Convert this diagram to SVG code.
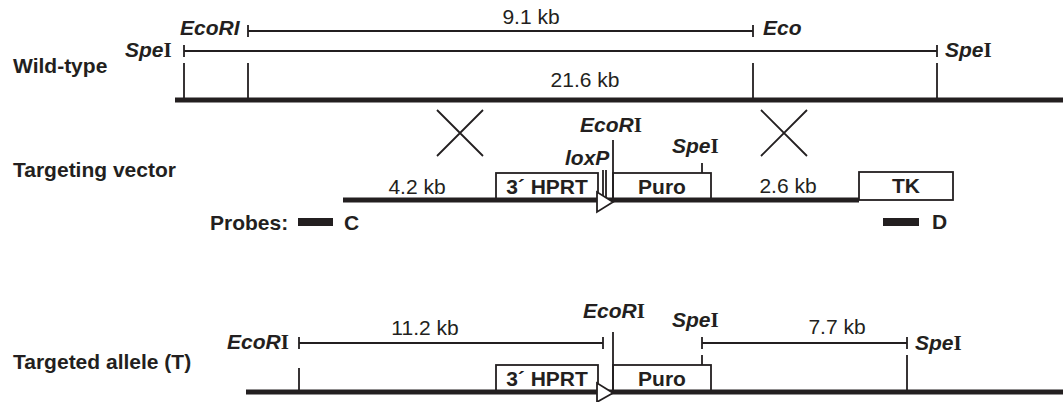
<svg xmlns="http://www.w3.org/2000/svg" width="1063" height="402" viewBox="0 0 1063 402">
  <style>
    text { fill: #231f20; }
    .lbl { font: bold 21px "Liberation Sans", Arial, sans-serif; }
    .kb { font: 21px "Liberation Sans", Arial, sans-serif; text-anchor: middle; }
    .box-t { font: bold 21px "Liberation Sans", Arial, sans-serif; text-anchor: middle; }
    .site { font: italic bold 21px "Liberation Sans", Arial, sans-serif; }
    .rn { font-family: "Liberation Serif", "Times New Roman", serif; font-style: normal; font-weight: bold; }
    .thin { stroke: #231f20; stroke-width: 1.8; fill: none; }
    .dna { stroke: #231f20; stroke-width: 5; fill: none; }
    .box { fill: #fff; stroke: #231f20; stroke-width: 1.8; }
    .probe { fill: #231f20; }
  </style>

  <!-- Wild-type locus -->
  <g id="wild-type">
    <text class="lbl" x="13" y="73">Wild-type</text>
    <text class="site" x="180" y="35">EcoRI</text>
    <text class="site" x="125" y="57">Spe<tspan class="rn">I</tspan></text>
    <text class="site" x="763" y="35">Eco</text>
    <text class="site" x="945" y="57">Spe<tspan class="rn">I</tspan></text>
    <text class="kb" x="531" y="24">9.1 kb</text>
    <text class="kb" x="585" y="87">21.6 kb</text>
    <path class="thin" d="M248 31H753M248 25V37M753 25V37"/>
    <path class="thin" d="M184 51H937M184 45V57M937 45V57"/>
    <path class="thin" d="M184 63V100M248 63V100M753 63V100M937 63V100"/>
    <path class="dna" d="M175 100H1063"/>
  </g>

  <!-- homologous recombination crossovers -->
  <g id="crossovers">
    <path class="thin" d="M437 110L483 156M483 110L437 156"/>
    <path class="thin" d="M761 110L807 156M807 110L761 156"/>
  </g>

  <!-- Targeting vector -->
  <g id="targeting-vector">
    <text class="lbl" x="13" y="177">Targeting vector</text>
    <text class="site" x="580" y="132">EcoR<tspan class="rn">I</tspan></text>
    <text class="site" x="565" y="165">loxP</text>
    <text class="site" x="672" y="153">Spe<tspan class="rn">I</tspan></text>
    <text class="kb" x="417" y="194">4.2 kb</text>
    <text class="kb" x="788" y="193">2.6 kb</text>
    <rect class="box" x="496" y="173" width="102" height="27"/>
    <rect class="box" x="613" y="173" width="98" height="27"/>
    <rect class="box" x="859" y="172" width="94" height="28"/>
    <text class="box-t" x="547" y="194">3´ HPRT</text>
    <text class="box-t" x="662" y="194">Puro</text>
    <text class="box-t" x="906" y="193">TK</text>
    <path class="thin" d="M613 140V200M603 170V197M606 170V197M702 163V173"/>
    <path class="dna" d="M343 200H859" stroke-width="4.5"/>
    <polygon class="box" points="597,192 597,212 613,202"/>
  </g>

  <!-- Southern probes -->
  <g id="probes">
    <text class="lbl" x="210" y="230">Probes:</text>
    <rect class="probe" x="298" y="218" width="35" height="8"/>
    <text class="lbl" x="344" y="230">C</text>
    <rect class="probe" x="883" y="218" width="36" height="8"/>
    <text class="lbl" x="932" y="229">D</text>
  </g>

  <!-- Targeted allele -->
  <g id="targeted-allele">
    <text class="lbl" x="13" y="369">Targeted allele (T)</text>
    <text class="site" x="227" y="349">EcoR<tspan class="rn">I</tspan></text>
    <text class="site" x="583" y="318">EcoR<tspan class="rn">I</tspan></text>
    <text class="site" x="672" y="327">Spe<tspan class="rn">I</tspan></text>
    <text class="site" x="915" y="350">Spe<tspan class="rn">I</tspan></text>
    <text class="kb" x="425" y="335">11.2 kb</text>
    <text class="kb" x="837" y="334">7.7 kb</text>
    <path class="thin" d="M299 343H603M299 337V349M603 337V349"/>
    <path class="thin" d="M702 343H907M702 337V349M907 337V349"/>
    <rect class="box" x="496" y="365" width="102" height="27"/>
    <rect class="box" x="613" y="365" width="98" height="27"/>
    <text class="box-t" x="547" y="386">3´ HPRT</text>
    <text class="box-t" x="662" y="386">Puro</text>
    <path class="thin" d="M299 368V392M907 355V392M613 332V392M702 355V365"/>
    <path class="dna" d="M246 392H1063"/>
    <polygon class="box" points="597,383 597,402 613,393"/>
  </g>
</svg>
